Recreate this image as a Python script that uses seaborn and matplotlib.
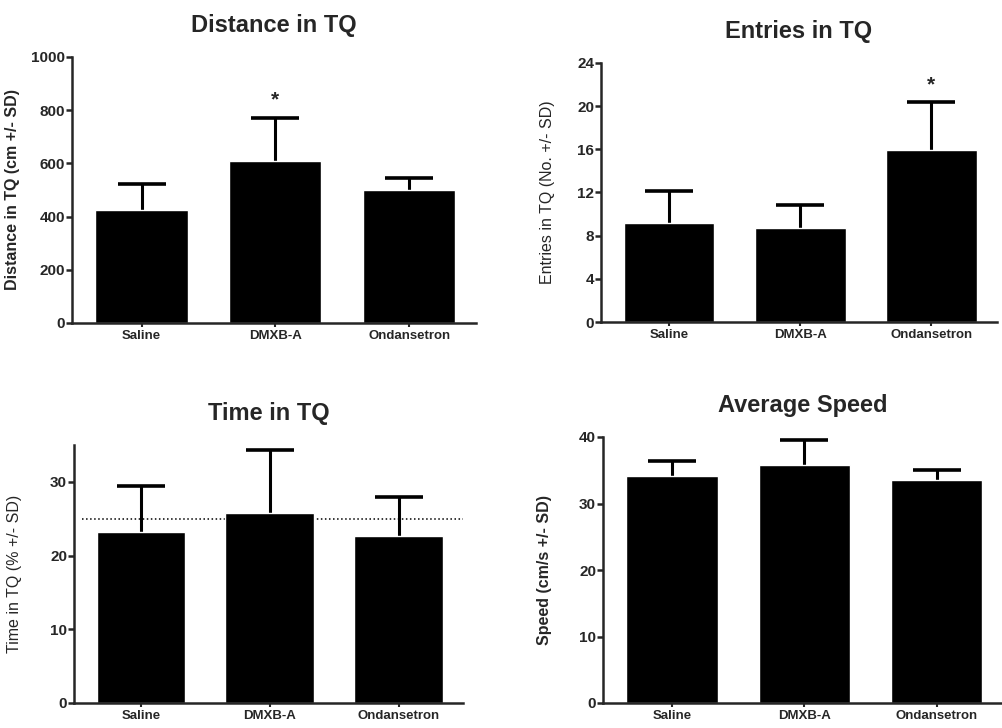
import numpy as np
import matplotlib
matplotlib.use("Agg")
import matplotlib.pyplot as plt
import seaborn as sns

# data
groups = ["Saline", "DMXB-A", "Ondansetron"]

distance_mean = [425, 609, 500]
distance_sd = [97, 161, 45]

entries_mean = [9.2, 8.7, 15.9]
entries_sd = [2.9, 2.15, 4.45]

time_mean = [23.2, 25.8, 22.6]
time_sd = [6.2, 8.5, 5.4]
chance_level = 25

speed_mean = [34.2, 35.8, 33.5]
speed_sd = [2.2, 3.7, 1.6]

sns.set_style("ticks")
plt.rcParams["font.family"] = ["Liberation Sans", "DejaVu Sans"]

W, H = 1003, 728
fig = plt.figure(figsize=(W / 100, H / 100), dpi=100)


def px_axes(l, r, t, b):
    return fig.add_axes([l / W, 1 - b / H, (r - l) / W, (b - t) / H])


def draw_panel(ax, means, sds, title, ylabel, ylim, yticks, label_bold, label_x, star=None):
    sns.barplot(x=groups, y=means, color="black", saturation=1, width=0.69,
                errorbar=None, ax=ax, zorder=2)
    pos = np.arange(len(groups))
    _, caps, bars = ax.errorbar(pos, means, yerr=[np.zeros(len(means)), sds],
                                fmt="none", ecolor="black", elinewidth=2.2,
                                capsize=17, capthick=2.6, zorder=1)
    # keep only the upper caps
    for c in caps:
        if np.allclose(c.get_ydata(), means):
            c.set_visible(False)
    if star is not None:
        ax.annotate("*", (star, means[star] + sds[star]), xytext=(0, 6),
                    textcoords="offset points", ha="center", va="bottom",
                    fontsize=15, fontweight="bold")
    ax.set_xlim(-0.52, 2.5)
    ax.set_ylim(*ylim)
    ax.set_yticks(yticks)
    ax.set_title(title, fontsize=17, fontweight="bold", pad=18)
    ax.set_ylabel(ylabel, fontsize=11.5, fontweight="bold" if label_bold else "normal")
    ax.yaxis.set_label_coords(label_x, 0.5)
    ax.set_xlabel("")
    for s in ["top", "right"]:
        ax.spines[s].set_visible(False)
    for s in ["left", "bottom"]:
        ax.spines[s].set_linewidth(1.8)
    ax.tick_params(axis="y", length=4, width=1.8, pad=1, labelsize=11)
    ax.tick_params(axis="x", length=3, width=1.5, pad=2, labelsize=9.5)
    for lab in ax.get_xticklabels() + ax.get_yticklabels():
        lab.set_fontweight("bold")


ax1 = px_axes(72, 476, 57, 323)
draw_panel(ax1, distance_mean, distance_sd, "Distance in TQ",
           "Distance in TQ (cm +/- SD)", (0, 1000), range(0, 1001, 200),
           True, -0.128, star=1)

ax2 = px_axes(601, 997, 63, 322)
draw_panel(ax2, entries_mean, entries_sd, "Entries in TQ",
           "Entries in TQ (No. +/- SD)", (0, 24), range(0, 25, 4),
           False, -0.115, star=2)

ax3 = px_axes(74, 463, 445, 703)
draw_panel(ax3, time_mean, time_sd, "Time in TQ",
           "Time in TQ (% +/- SD)", (0, 35), range(0, 31, 10),
           False, -0.133)
ax3.axhline(chance_level, xmin=0.02, xmax=1.0, ls=":", color="black", lw=1.1, zorder=0)

ax4 = px_axes(603, 1003, 437, 703)
draw_panel(ax4, speed_mean, speed_sd, "Average Speed",
           "Speed (cm/s +/- SD)", (0, 40), range(0, 41, 10),
           True, -0.127)

fig.savefig("out.png", dpi=100)
